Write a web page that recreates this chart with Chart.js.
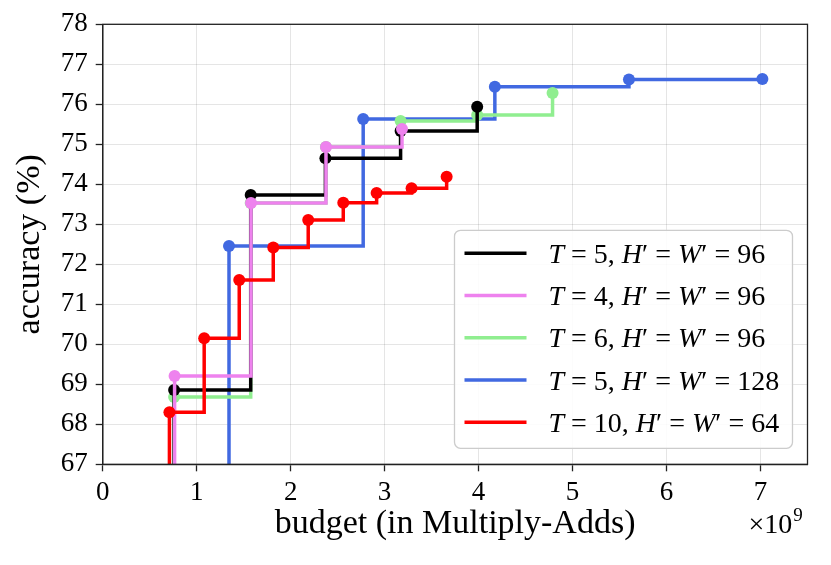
<!DOCTYPE html>
<html>
<head>
<meta charset="utf-8">
<script src="https://cdn.jsdelivr.net/npm/chart.js@4.4.1/dist/chart.umd.min.js"></script>
<style>
  html, body { margin: 0; padding: 0; background: #fff; }
  #wrap { width: 831px; height: 565px; }
</style>
</head>
<body>
<div id="wrap"><canvas id="chart" width="831" height="565"></canvas></div>
<script>
// budget in units of 1e9 Multiply-Adds, accuracy in %
// first entry of each series sits below the y range (only its vertical rise shows)
var budgetT5r96 = [0.4, 0.76, 1.575, 2.37, 3.17, 3.985];
var accT5r96 = [60, 68.86, 73.73, 74.65, 75.33, 75.94];

var budgetT4r96 = [0.4, 0.765, 1.578, 2.376, 3.185];
var accT4r96 = [60, 69.21, 73.53, 74.93, 75.38];

var budgetT6r96 = [0.4, 0.76, 1.575, 2.375, 3.17, 3.985, 4.787];
var accT6r96 = [60, 68.68, 73.53, 74.93, 75.58, 75.73, 76.28];

var budgetT5r128 = [0.4, 1.344, 2.772, 4.173, 5.6, 7.02];
var accT5r128 = [60, 72.46, 75.63, 76.44, 76.62, 76.63];

var budgetT10r64 = [0.4, 0.71, 1.08, 1.453, 1.815, 2.187, 2.56, 2.915, 3.287, 3.66];
var accT10r64 = [60, 68.30, 70.15, 71.61, 72.42, 73.11, 73.54, 73.78, 73.90, 74.19];

var stepsT = [5, 4, 6, 5, 10];
var resolution = [96, 96, 96, 128, 64];
var xTicks = [0, 1, 2, 3, 4, 5, 6, 7];
var yTicks = [67, 68, 69, 70, 71, 72, 73, 74, 75, 76, 77, 78];

var colors = ["#000000", "#ee82ee", "#90ee90", "#4169e1", "#ff0000"];
var drawOrder = [3, 2, 4, 5, 1]; // lower is drawn on top
var serif = "'Liberation Serif', 'Times New Roman', serif";

function pts(xs, ys) {
  return xs.map(function (x, i) { return { x: x, y: ys[i] }; });
}

var allX = [budgetT5r96, budgetT4r96, budgetT6r96, budgetT5r128, budgetT10r64];
var allY = [accT5r96, accT4r96, accT6r96, accT5r128, accT10r64];

var datasets = allX.map(function (xs, i) {
  return {
    label: "T=" + stepsT[i] + ", H'=W'=" + resolution[i],
    data: pts(xs, allY[i]),
    stepped: "before",
    borderColor: colors[i],
    backgroundColor: colors[i],
    borderWidth: 3.5,
    pointRadius: 6,
    pointHoverRadius: 6,
    pointBorderWidth: 0,
    fill: false,
    order: drawOrder[i],
  };
});

function legendParts(i) {
  return [
    { t: "T", it: true },
    { t: " = " + stepsT[i] + ", " },
    { t: "H", it: true },
    { t: "\u2032 = " },
    { t: "W", it: true },
    { t: "\u2032 = " + resolution[i] },
  ];
}

var overlay = {
  id: "overlay",
  afterDatasetsDraw: function (chart) {
    var ctx = chart.ctx;
    var a = chart.chartArea;
    ctx.save();

    // frame (top / right spines)
    ctx.strokeStyle = "#222";
    ctx.lineWidth = 1.3;
    ctx.strokeRect(a.left, a.top, a.right - a.left, a.bottom - a.top);

    // legend box
    var bw = 338, bh = 218;
    var bx = a.right - 15 - bw, by = a.bottom - 16 - bh;
    ctx.beginPath();
    ctx.roundRect(bx, by, bw, bh, 6);
    ctx.fillStyle = "rgba(255,255,255,0.85)";
    ctx.fill();
    ctx.strokeStyle = "#cccccc";
    ctx.lineWidth = 1.3;
    ctx.stroke();

    for (var i = 0; i < stepsT.length; i++) {
      var ry = by + 23 + i * 42.25;
      ctx.beginPath();
      ctx.moveTo(bx + 10, ry);
      ctx.lineTo(bx + 72, ry);
      ctx.strokeStyle = colors[i];
      ctx.lineWidth = 3.5;
      ctx.stroke();

      var tx = bx + 94;
      ctx.fillStyle = "#000";
      ctx.textBaseline = "alphabetic";
      legendParts(i).forEach(function (p) {
        ctx.font = (p.it ? "italic " : "") + "28px " + serif;
        ctx.fillText(p.t, tx, ry + 9.5);
        tx += ctx.measureText(p.t).width;
      });
    }

    // offset text x10^9
    ctx.fillStyle = "#000";
    ctx.font = "28px " + serif;
    ctx.fillText("\u00d710", a.right - 59, 533);
    var w = ctx.measureText("\u00d710").width;
    ctx.font = "19px " + serif;
    ctx.fillText("9", a.right - 59 + w + 1, 521);
    ctx.restore();
  },
};

var ctx = document.getElementById("chart");
var myChart = new Chart(ctx, {
  type: "line",
  data: { datasets: datasets },
  options: {
    responsive: false,
    animation: false,
    devicePixelRatio: 1,
    layout: { padding: { left: 0, top: 24.3, right: 23.5, bottom: 0 } },
    plugins: { legend: { display: false }, tooltip: { enabled: false } },
    scales: {
      x: {
        type: "linear",
        min: 0,
        max: 7.5,
        afterFit: function (s) { s.height = 100.7; },
        afterBuildTicks: function (s) {
          s.ticks = xTicks.map(function (v) { return { value: v }; });
        },
        ticks: {
          font: { family: serif, size: 27 },
          color: "#000",
          padding: 5,
          maxRotation: 0,
          callback: function (v) { return v; },
        },
        grid: {
          color: "rgba(0,0,0,0.1)",
          lineWidth: 1,
          tickLength: 7,
          tickColor: "#222",
          tickWidth: 1.3,
        },
        border: { color: "#222", width: 1.3 },
        title: {
          display: true,
          text: "budget (in Multiply-Adds)",
          font: { family: serif, size: 34 },
          color: "#000",
          padding: { top: 0, bottom: 21 },
        },
      },
      y: {
        type: "linear",
        min: 67,
        max: 78,
        afterFit: function (s) { s.width = 102.7; },
        afterBuildTicks: function (s) {
          s.ticks = yTicks.map(function (v) { return { value: v }; });
        },
        ticks: {
          font: { family: serif, size: 27 },
          color: "#000",
          padding: 8,
          callback: function (v) { return v; },
        },
        grid: {
          color: "rgba(0,0,0,0.1)",
          lineWidth: 1,
          tickLength: 7,
          tickColor: "#222",
          tickWidth: 1.3,
        },
        border: { color: "#222", width: 1.3 },
        title: {
          display: true,
          text: "accuracy (%)",
          font: { family: serif, size: 34 },
          color: "#000",
          padding: { top: 10, bottom: 0 },
        },
      },
    },
  },
  plugins: [overlay],
});
</script>
</body>
</html>
